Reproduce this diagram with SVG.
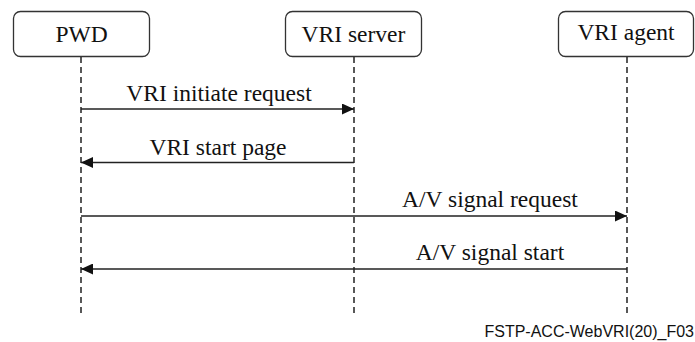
<svg xmlns="http://www.w3.org/2000/svg" width="695" height="342" viewBox="0 0 695 342">
<style>
.box{fill:#fff;stroke:#333;stroke-width:1.3}
.life{stroke:#222;stroke-width:1.5;stroke-dasharray:6,4;fill:none}
.msg{stroke:#222;stroke-width:1.4;fill:none}
.t{font-family:"Liberation Serif","Times New Roman",serif;font-size:23.5px;fill:#111;text-anchor:middle}
.f{font-family:"Liberation Sans",Arial,sans-serif;font-size:16px;fill:#111;text-anchor:end}
</style>
<defs>
<marker id="ah" markerWidth="13" markerHeight="11" refX="12" refY="5.5" orient="auto" markerUnits="userSpaceOnUse">
<path d="M0,0 L12,5.5 L0,11 Z" fill="#111"/>
</marker>
</defs>
<rect width="695" height="342" fill="#fff"/>
<g id="pwd">
<rect class="box" x="13.5" y="11.5" width="136" height="45" rx="7"/>
<text class="t" x="81.5" y="42">PWD</text>
<line class="life" x1="81" y1="57" x2="81" y2="314"/>
</g>
<g id="vri-server">
<rect class="box" x="285.5" y="11.5" width="136" height="45" rx="7"/>
<text class="t" x="353.5" y="42">VRI server</text>
<line class="life" x1="354" y1="57" x2="354" y2="314"/>
</g>
<g id="vri-agent">
<rect class="box" x="558.5" y="11.5" width="135" height="45" rx="7"/>
<text class="t" x="626" y="40">VRI agent</text>
<line class="life" x1="627" y1="57" x2="627" y2="314"/>
</g>
<g id="connectors">
<line class="msg" x1="81" y1="109" x2="354" y2="109" marker-end="url(#ah)"/>
<text class="t" x="219" y="101">VRI initiate request</text>
<line class="msg" x1="354" y1="162.5" x2="81" y2="162.5" marker-end="url(#ah)"/>
<text class="t" x="218" y="155">VRI start page</text>
<line class="msg" x1="81" y1="216" x2="627" y2="216" marker-end="url(#ah)"/>
<text class="t" x="490" y="207">A/V signal request</text>
<line class="msg" x1="627" y1="269" x2="81" y2="269" marker-end="url(#ah)"/>
<text class="t" x="490" y="260">A/V signal start</text>
</g>
<text class="f" x="694" y="337">FSTP-ACC-WebVRI(20)_F03</text>
</svg>
